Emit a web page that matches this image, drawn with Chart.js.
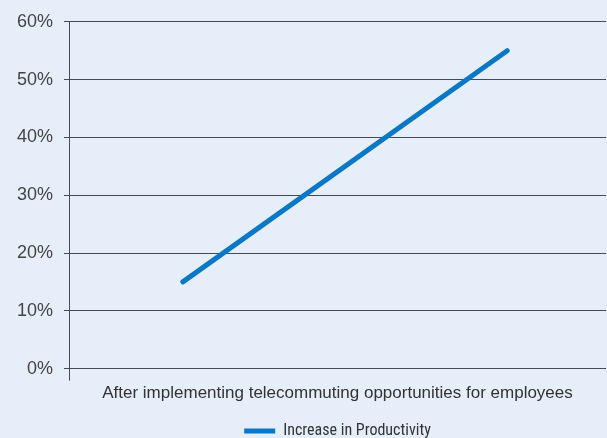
<!DOCTYPE html>
<html>
<head>
<meta charset="utf-8">
<script src="https://cdn.jsdelivr.net/npm/chart.js@4.4.0/dist/chart.umd.min.js"></script>
<style>
  html, body { margin: 0; padding: 0; background: #e6eef9; }
  #wrap { width: 607px; height: 438px; }
</style>
</head>
<body>
<div id="wrap"><canvas id="c"></canvas></div>
<script>
const seriesName = 'Increase in Productivity';
const categoryLabel = 'After implementing telecommuting opportunities for employees';
const xPositions = [0.212, 0.816];
const productivityValues = [15, 55];
const yTicks = [0, 10, 20, 30, 40, 50, 60];

const points = xPositions.map((x, i) => ({ x: x, y: productivityValues[i] }));

new Chart(document.getElementById('c'), {
  type: 'line',
  data: {
    datasets: [{
      label: seriesName,
      data: points,
      borderColor: '#0a78c6',
      backgroundColor: '#0a78c6',
      borderWidth: 5,
      borderCapStyle: 'round',
      pointRadius: 0,
      pointHoverRadius: 0,
      fill: false,
      tension: 0
    }]
  },
  options: {
    responsive: true,
    maintainAspectRatio: false,
    animation: false,
    layout: { padding: { top: 16, right: 1, left: 0, bottom: -11 } },
    plugins: {
      tooltip: { enabled: false },
      legend: {
        position: 'bottom',
        fullSize: false,
        labels: {
          usePointStyle: true,
          pointStyle: 'line',
          pointStyleWidth: 31,
          boxHeight: 8,
          padding: 0,
          color: '#333',
          font: { family: "'Liberation Sans Narrow', 'Roboto Condensed', 'DejaVu Sans Condensed', sans-serif", size: 16 }
        }
      }
    },
    scales: {
      x: {
        type: 'linear',
        min: 0,
        max: 1,
        afterBuildTicks: (axis) => { axis.ticks = [{ value: 0 }]; },
        ticks: { display: false },
        border: { display: false },
        grid: { display: true, drawOnChartArea: false, tickLength: 12, color: '#444b55', lineWidth: 1 },
        title: {
          display: true,
          text: categoryLabel,
          color: '#333',
          font: { family: "'Liberation Sans', Arial, sans-serif", size: 17 },
          padding: { top: 3, bottom: 19 }
        }
      },
      y: {
        min: 0,
        max: 60,
        afterBuildTicks: (axis) => { axis.ticks = yTicks.map(v => ({ value: v })); },
        afterFit: (axis) => { axis.width = 69; },
        border: { display: true, color: '#444b55', width: 1 },
        grid: { color: '#444b55', lineWidth: 1, tickLength: 5 },
        ticks: {
          color: '#444',
          padding: 11,
          font: { family: "'Liberation Sans', Arial, sans-serif", size: 18 },
          callback: (v) => v + '%'
        }
      }
    }
  }
});
</script>
</body>
</html>
